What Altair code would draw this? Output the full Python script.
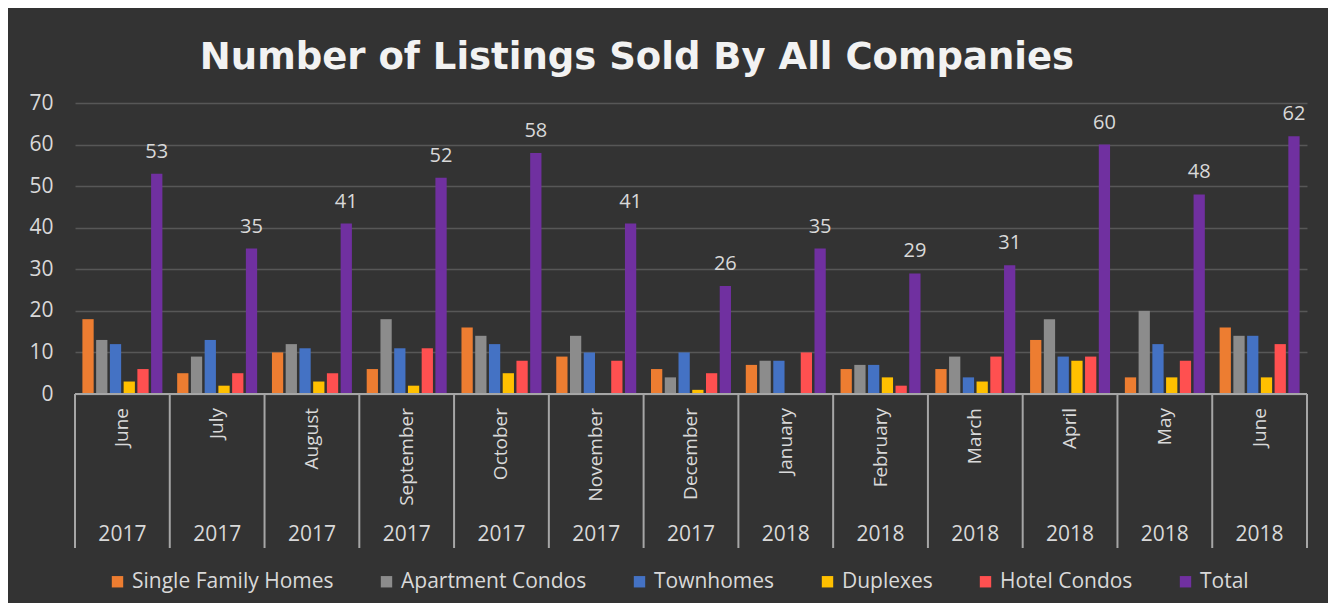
import altair as alt
import pandas as pd

months = ["June", "July", "August", "September", "October", "November", "December",
          "January", "February", "March", "April", "May", "June"]
years = ["2017"] * 7 + ["2018"] * 6
series = ["Single Family Homes", "Apartment Condos", "Townhomes", "Duplexes", "Hotel Condos", "Total"]
single_family = [18, 5, 10, 6, 16, 9, 6, 7, 6, 6, 13, 4, 16]
apartment_condos = [13, 9, 12, 18, 14, 14, 4, 8, 7, 9, 18, 20, 14]
townhomes = [12, 13, 11, 11, 12, 10, 10, 8, 7, 4, 9, 12, 14]
duplexes = [3, 2, 3, 2, 5, 0, 1, 0, 4, 3, 8, 4, 4]
hotel_condos = [6, 5, 5, 11, 8, 8, 5, 10, 2, 9, 9, 8, 12]
total = [53, 35, 41, 52, 58, 41, 26, 35, 29, 31, 60, 48, 62]
colors = ["#ed7d31", "#8c8c8c", "#4472c4", "#ffc000", "#ff5050", "#7030a0"]

values = [single_family, apartment_condos, townhomes, duplexes, hotel_condos, total]
rows = []
for s, vals in zip(series, values):
    for i, v in enumerate(vals):
        rows.append({"p": i, "month": months[i], "year": years[i], "series": s, "value": v})
df = pd.DataFrame(rows)
cats = pd.DataFrame({"p": list(range(len(months))), "month": months, "year": years})
bounds = pd.DataFrame({"b": list(range(len(months) + 1))})
baseline = pd.DataFrame({"b": [0], "b2": [len(months)]})

FONT = "Open Sans"
LABEL = "#d9d9d9"
xscale = alt.Scale(paddingInner=0.13, paddingOuter=0.065)
xenc = alt.X("p:O", scale=xscale, axis=None)

bars = alt.Chart(df).mark_bar().encode(
    x=xenc,
    xOffset=alt.XOffset("series:N", sort=series, scale=alt.Scale(paddingInner=0.18, paddingOuter=0.09)),
    y=alt.Y("value:Q", scale=alt.Scale(domain=[0, 70], nice=False),
            axis=alt.Axis(values=list(range(0, 71, 10)), grid=True, gridColor="#575757",
                          gridWidth=1.5, domain=False, ticks=False, labelColor=LABEL,
                          labelFontSize=21, labelFont=FONT, labelPadding=22, title=None)),
    color=alt.Color("series:N", sort=series, scale=alt.Scale(domain=series, range=colors),
                    legend=alt.Legend(orient="none", legendX=32, legendY=468, direction="horizontal",
                                      title=None, symbolType="square", symbolSize=130,
                                      symbolStrokeWidth=0, labelColor=LABEL, labelFontSize=21,
                                      labelFont=FONT, columnPadding=42, labelOffset=4,
                                      labelLimit=0)),
)

totals = alt.Chart(df).transform_filter(alt.datum.series == "Total").mark_text(
    font=FONT, fontSize=20, color=LABEL, dy=-22, baseline="middle"
).encode(
    x=xenc,
    xOffset=alt.XOffset("series:N", sort=series),
    y=alt.Y("value:Q"),
    text=alt.Text("value:Q"),
)

month_labels = alt.Chart(cats).mark_text(
    font=FONT, fontSize=19, color=LABEL, angle=270, align="right", baseline="middle"
).encode(x=xenc, y=alt.value(305), text="month:N")

year_labels = alt.Chart(cats).mark_text(
    font=FONT, fontSize=21, color=LABEL, baseline="middle"
).encode(x=xenc, y=alt.value(432), text="year:N")

frame_x = alt.Scale(domain=[0, len(months)], nice=False, zero=False)
vlines = alt.Chart(bounds).mark_rule(color="#a6a6a6", strokeWidth=2).encode(
    x=alt.X("b:Q", scale=frame_x, axis=None), y=alt.value(291), y2=alt.value(445)
)
hline = alt.Chart(baseline).mark_rule(color="#a6a6a6", strokeWidth=2).encode(
    x=alt.X("b:Q", scale=frame_x, axis=None), x2="b2:Q", y=alt.value(291)
)

main = alt.layer(bars, totals, month_labels, year_labels)
frame = alt.layer(vlines, hline)

chart = alt.layer(main, frame).resolve_scale(x="independent").properties(
    width=1232, height=291,
    autosize=alt.AutoSizeParams(type="none"),
    padding={"left": 67, "top": 95, "right": 21, "bottom": 209},
    background="#333333",
    title=alt.TitleParams("Number of Listings Sold By All Companies", font="DejaVu Sans",
                          fontSize=37, fontWeight="bold", color="#f2f2f2", anchor="middle",
                          dx=-54, offset=15),
).configure_view(stroke=None)

chart.save("out.html", embed_options={"renderer": "svg", "actions": False})
